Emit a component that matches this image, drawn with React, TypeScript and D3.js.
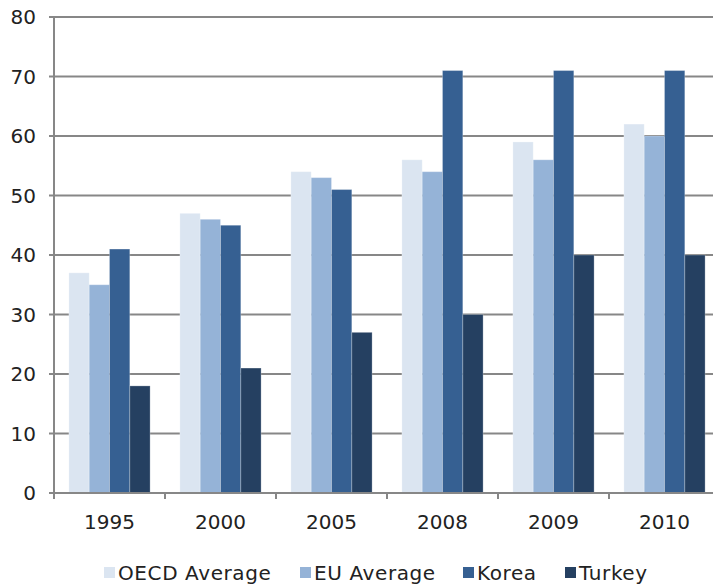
import React from "react";
import * as d3 from "d3";

const categories = ["1995", "2000", "2005", "2008", "2009", "2010"];
const seriesNames = ["OECD Average", "EU Average", "Korea", "Turkey"];
const oecd = [37, 47, 54, 56, 59, 62];
const eu = [35, 46, 53, 54, 56, 60];
const korea = [41, 45, 51, 71, 71, 71];
const turkey = [18, 21, 27, 30, 40, 40];
const yTicks = [0, 10, 20, 30, 40, 50, 60, 70, 80];
const colors = ["#dbe5f1", "#95b3d7", "#366092", "#254061"];
const legendX = [104, 300, 463, 565];

const W = 713;
const H = 584;
const FONT = "DejaVu Sans, sans-serif";

export default function App() {
  const series = [oecd, eu, korea, turkey];
  const x = d3.scaleBand<string>().domain(categories).range([54, 720]);
  const y = d3.scaleLinear().domain([0, 80]).range([493, 17]);
  const barW = 20.3;
  const grid = "#878787";

  return (
    <svg width={W} height={H} style={{ position: "absolute", left: 0, top: 0 }} fontFamily={FONT}>
      <rect width={W} height={H} fill="#fff" />
      {yTicks.map((t) => (
        <g key={t}>
          <line x1={49} x2={W} y1={y(t)} y2={y(t)} stroke={grid} strokeWidth={2} />
          <text x={36} y={y(t)} dy="0.36em" textAnchor="end" fontSize={20} fill="#222">
            {t}
          </text>
        </g>
      ))}
      {categories.map((c, i) => {
        const cx = (x(c) as number) + x.bandwidth() / 2;
        const start = cx - (barW * 4) / 2;
        return (
          <g key={c}>
            {series.map((s, k) => (
              <rect
                key={k}
                x={start + k * barW}
                y={y(s[i])}
                width={barW}
                height={y(0) - y(s[i])}
                fill={colors[k]}
                stroke="#ffffff"
                strokeOpacity={0.25}
                strokeWidth={1}
              />
            ))}
            <text x={cx} y={529} textAnchor="middle" fontSize={20} fill="#222">
              {c}
            </text>
          </g>
        );
      })}
      <line x1={54} x2={54} y1={17} y2={493} stroke={grid} strokeWidth={2} />
      <line x1={49} x2={W} y1={493} y2={493} stroke={grid} strokeWidth={2} />
      {categories.map((c) => (
        <line key={c} x1={x(c) as number} x2={x(c) as number} y1={493} y2={499} stroke={grid} strokeWidth={2} />
      ))}
      {seriesNames.map((n, k) => (
        <g key={n}>
          <rect x={legendX[k]} y={567} width={11} height={11} fill={colors[k]} />
          <text x={legendX[k] + 14} y={580} fontSize={20} letterSpacing={0.6} fill="#222">
            {n}
          </text>
        </g>
      ))}
    </svg>
  );
}
